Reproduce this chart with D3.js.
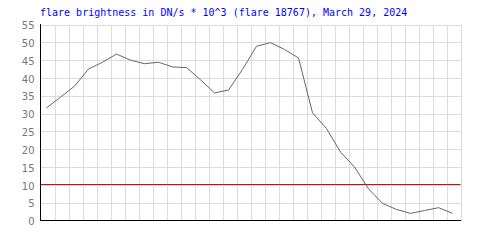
<!DOCTYPE html>
<html><head><meta charset="utf-8">
<script src="https://cdn.jsdelivr.net/npm/d3@7"></script>
<style>
html,body{margin:0;padding:0;background:#fff;}
svg{display:block;}
</style></head>
<body>
<svg id="chart" width="500" height="250"></svg>
<script>
const titleText = "flare brightness in DN/s * 10^3 (flare 18767), March 29, 2024";
const times = [0,1,2,3,4,5,6,7,8,9,10,11,12,13,14,15,16,17,18,19,20,21,22,23,24,25,26,27,28,29];
const brightness = [31.6,34.6,37.7,42.5,44.4,46.7,45.0,44.0,44.4,43.1,42.9,39.5,35.8,36.6,42.4,48.9,49.9,48.0,45.6,30.2,25.8,19.2,15.0,8.9,4.8,3.1,2.0,2.8,3.6,2.0];
const yTicks = [0,5,10,15,20,25,30,35,40,45,50,55];
const threshold = 10;

const svg = d3.select("#chart");
const L = 40.5, R = 460.5, T = 24.5, B = 220.5;
const x = d3.scaleLinear().domain([0, 30]).range([L, R]);
const y = d3.scaleLinear().domain([0, 55]).range([B, T]);
const xOff = 0.43;

// grid
svg.append("g").attr("transform", `translate(0,${B})`)
  .call(d3.axisBottom(x).tickValues(d3.range(1, 31)).tickSize(-(B - T)).tickFormat(""))
  .call(g => g.select(".domain").remove())
  .call(g => g.selectAll("line").attr("stroke", "#dcdcdc").attr("shape-rendering", "crispEdges"));
svg.append("g").attr("transform", `translate(${L},0)`)
  .call(d3.axisLeft(y).tickValues(yTicks.slice(1)).tickSize(-(R - L)).tickFormat(""))
  .call(g => g.select(".domain").remove())
  .call(g => g.selectAll("line").attr("stroke", "#dcdcdc").attr("shape-rendering", "crispEdges"));

// tick labels
svg.append("g").attr("transform", `translate(${L},0)`)
  .call(d3.axisLeft(y).tickValues(yTicks).tickSize(0).tickPadding(6))
  .call(g => g.select(".domain").remove())
  .call(g => g.selectAll("text").attr("fill", "#777").attr("font-family", "DejaVu Sans, sans-serif")
      .attr("font-size", 10).attr("dy", "0.42em"));

// threshold line
const ty = Math.floor(y(threshold)) + 0.5;
svg.append("path").attr("d", `M${L},${ty}H${R}`)
  .attr("fill", "none").attr("stroke", "rgb(230,0,0)").attr("stroke-width", 1.2);

// data line
const line = d3.line().x((d, i) => x(times[i] + xOff)).y(d => y(d));
svg.append("path").datum(brightness).attr("d", line).attr("fill", "none")
  .attr("stroke", "#666").attr("stroke-width", 1);

// axes
svg.append("path").attr("d", `M${L},${T - 0.5}V${B}H${R}`).attr("fill", "none")
  .attr("stroke", "#000").attr("shape-rendering", "crispEdges");

// title
svg.append("text").attr("x", 40).attr("y", 16).text(titleText)
  .attr("fill", "#0000ff").attr("font-family", "DejaVu Sans Mono, monospace").attr("font-size", 10);
</script>
</body></html>
